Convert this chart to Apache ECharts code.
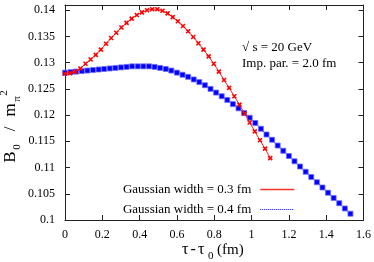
<!DOCTYPE html>
<html>
<head>
<meta charset="utf-8">
<script src="https://cdn.jsdelivr.net/npm/echarts@6/dist/echarts.min.js"></script>
<style>
html,body{margin:0;padding:0;background:#fff;}
#chart{width:374px;height:262px;}
</style>
</head>
<body>
<div id="chart"></div>
<script>
// Gaussian width = 0.3 fm (red, crosses)
const tauRed = [0, 0.0275, 0.055, 0.0825, 0.11, 0.1375, 0.165, 0.1925, 0.22, 0.2475,
  0.275, 0.3025, 0.33, 0.3575, 0.385, 0.4125, 0.44, 0.4675, 0.495, 0.5225,
  0.55, 0.5775, 0.605, 0.6325, 0.66, 0.6875, 0.715, 0.7425, 0.77, 0.7975,
  0.825, 0.8525, 0.88, 0.9075, 0.935, 0.9625, 0.99, 1.0175, 1.045, 1.0725, 1.1];
const bRed = [0.1279, 0.1280, 0.1283, 0.1289, 0.1298, 0.1306, 0.1315, 0.1325, 0.1336, 0.1347,
  0.1357, 0.1367, 0.1376, 0.1384, 0.1391, 0.1396, 0.1400, 0.1402, 0.1402, 0.1399,
  0.1394, 0.1387, 0.1379, 0.1370, 0.1360, 0.1349, 0.1337, 0.1325, 0.1312, 0.1298,
  0.1283, 0.1267, 0.1252, 0.1236, 0.1220, 0.1203, 0.1186, 0.1169, 0.1152, 0.1136, 0.1118];

// Gaussian width = 0.4 fm (blue, squares)
const tauBlue = [0, 0.03, 0.06, 0.09, 0.12, 0.15, 0.18, 0.21, 0.24, 0.27,
  0.30, 0.33, 0.36, 0.39, 0.42, 0.45, 0.48, 0.51, 0.54, 0.57,
  0.60, 0.63, 0.66, 0.69, 0.72, 0.75, 0.78, 0.81, 0.84, 0.87,
  0.90, 0.93, 0.96, 0.99, 1.02, 1.05, 1.08, 1.11, 1.14, 1.17,
  1.20, 1.23, 1.26, 1.29, 1.32, 1.35, 1.38, 1.41, 1.44, 1.47, 1.50, 1.53];
const bBlue = [0.1281, 0.1282, 0.1283, 0.1284, 0.1285, 0.1286, 0.1287, 0.1288, 0.1289, 0.1290,
  0.1291, 0.1292, 0.1293, 0.1293, 0.1293, 0.1293, 0.1292, 0.1290, 0.1288, 0.1285,
  0.1281, 0.1277, 0.1273, 0.1268, 0.1263, 0.1257, 0.1250, 0.1243, 0.1236, 0.1229,
  0.1221, 0.1213, 0.1204, 0.1195, 0.1185, 0.1174, 0.1163, 0.1153, 0.1142, 0.1132,
  0.1122, 0.1112, 0.1102, 0.1092, 0.1082, 0.1072, 0.1062, 0.1052, 0.1042, 0.1032, 0.1022, 0.1012];

const seriesNames = ['Gaussian width = 0.3 fm', 'Gaussian width = 0.4 fm'];
const xTickValues = [0, 0.2, 0.4, 0.6, 0.8, 1, 1.2, 1.4, 1.6];
const xTickLabels = ['0', '0.2', '0.4', '0.6', '0.8', '1', '1.2', '1.4', '1.6'];
const yTickValues = [0.1, 0.105, 0.11, 0.115, 0.12, 0.125, 0.13, 0.135, 0.14];
const yTickLabels = ['0.1', '0.105', '0.11', '0.115', '0.12', '0.125', '0.13', '0.135', '0.14'];

function lab(values, labels) {
  return function (v) {
    for (let i = 0; i < values.length; i++) {
      if (Math.abs(values[i] - v) < 1e-7) return labels[i];
    }
    return '';
  };
}

const SERIF = '"Liberation Serif", "DejaVu Serif", serif';
const axisCol = '#222';

const chart = echarts.init(document.getElementById('chart'), null, {renderer: 'canvas'});

const common = {
  axisLine: {show: true, onZero: false, lineStyle: {color: axisCol, width: 1}},
  axisTick: {show: true, inside: true, length: 5, lineStyle: {color: axisCol, width: 1}},
  splitLine: {show: false}
};

function t(text, x, y, size, rot) {
  const o = {type: 'text', x: x, y: y, style: {text: text, font: size + 'px ' + SERIF, fill: '#000',
    align: rot ? 'center' : 'left', verticalAlign: 'middle'}};
  if (rot) o.rotation = Math.PI / 2;
  return o;
}

chart.setOption({
  animation: false,
  backgroundColor: '#fff',
  grid: {left: 65, right: 10, top: 5, bottom: 42},
  xAxis: [
    Object.assign({type: 'value', min: 0, max: 1.6, interval: 0.2, position: 'bottom',
      axisLabel: {show: true, margin: 9, color: '#000', fontFamily: SERIF, fontSize: 12,
        formatter: lab(xTickValues, xTickLabels)}}, common),
    Object.assign({type: 'value', min: 0, max: 1.6, interval: 0.2, position: 'top',
      axisLabel: {show: false}}, common)
  ],
  yAxis: [
    Object.assign({type: 'value', min: 0.1, max: 0.141, interval: 0.005, position: 'left',
      axisLabel: {show: true, margin: 10, color: '#000', fontFamily: SERIF, fontSize: 12,
        formatter: lab(yTickValues, yTickLabels)}}, common),
    Object.assign({type: 'value', min: 0.1, max: 0.141, interval: 0.005, position: 'right',
      axisLabel: {show: false}}, common)
  ],
  legend: {
    orient: 'vertical', right: 74, top: 178, align: 'right',
    itemWidth: 34, itemHeight: 12, itemGap: 7,
    itemStyle: {opacity: 0},
    textStyle: {fontFamily: SERIF, fontSize: 13, color: '#000', padding: [0, 4, 0, 0]},
    data: [
      {name: seriesNames[0], lineStyle: {width: 1.5, color: '#ff3030', type: 'solid'}},
      {name: seriesNames[1], lineStyle: {width: 1, color: '#0000ff', type: 'dotted'}}
    ]
  },
  series: [
    {
      name: seriesNames[1], type: 'line', xAxisIndex: 0, yAxisIndex: 0, z: 2,
      data: tauBlue.map((tt, i) => [tt, bBlue[i]]),
      showAllSymbol: true, symbol: 'rect', symbolSize: 5,
      itemStyle: {color: '#0000ff', borderColor: 'rgba(110,110,255,0.8)', borderWidth: 1},
      lineStyle: {color: '#0000ff', width: 1, type: 'dotted'}
    },
    {
      name: seriesNames[0], type: 'line', xAxisIndex: 0, yAxisIndex: 0, z: 3,
      data: tauRed.map((tt, i) => [tt, bRed[i]]),
      showAllSymbol: true, symbol: 'path://M0,0L10,10M10,0L0,10', symbolSize: 4,
      itemStyle: {color: '#ff0000', borderColor: '#ff0000', borderWidth: 1.6},
      lineStyle: {color: '#ff2020', width: 1}
    }
  ],
  graphic: [
    t('\u221A s = 20 GeV', 242, 48, 13),
    t('Imp. par. = 2.0 fm', 242, 64, 13),
    // x axis title
    t('\u03C4', 182, 250, 16),
    t('-', 190.5, 250, 16),
    t('\u03C4', 198, 250, 16),
    t('0', 208, 256, 11),
    t('(fm)', 217, 250, 15),
    // y axis title (rotated)
    t('B', 11, 157, 17, true),
    t('0', 17, 147, 11, true),
    t('/', 11, 129, 17, true),
    t('m', 11, 110, 17, true),
    t('\u03C0', 17, 99, 11, true),
    t('2', 4, 93, 11, true)
  ]
});
</script>
</body>
</html>
